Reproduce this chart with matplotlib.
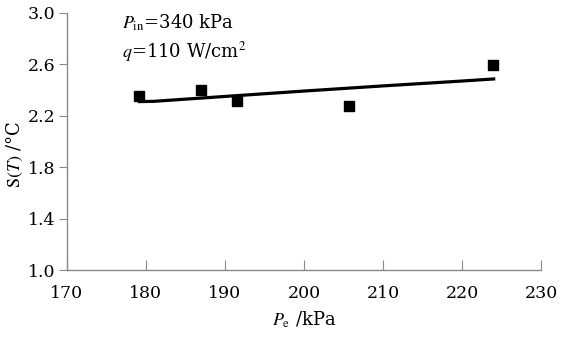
import numpy as np
import matplotlib.pyplot as plt

plt.rcParams['font.family'] = ['DejaVu Serif']
plt.rcParams['mathtext.fontset'] = 'stix'

# измерения
pe = [179.2, 187.0, 191.6, 205.7, 223.9]
s_t = [2.354, 2.398, 2.313, 2.279, 2.598]

# расчётная кривая
pe_line = [179.2, 181.0, 190.0, 200.0, 210.0, 220.0, 224.0]
s_line = [2.310, 2.312, 2.350, 2.392, 2.432, 2.470, 2.486]

x_ticks = [170, 180, 190, 200, 210, 220, 230]
y_ticks = [1.0, 1.4, 1.8, 2.2, 2.6, 3.0]

fig = plt.figure(figsize=(5.85, 3.39), dpi=100)
ax = fig.add_axes([0.114, 0.2035, 0.811, 0.7585])

ax.plot(pe_line, s_line, color='black', linewidth=2.3)
ax.plot(pe, s_t, linestyle='', marker='s', markersize=7.5, color='black')

ax.set_xlim(170, 230)
ax.set_ylim(1.0, 3.0)
ax.set_xticks(x_ticks)
ax.set_yticks(y_ticks)
ax.set_yticklabels(['%.1f' % v for v in y_ticks])

for side in ['top', 'right']:
    ax.spines[side].set_visible(False)
for side in ['left', 'bottom']:
    ax.spines[side].set_color('#8a8a8a')
    ax.spines[side].set_linewidth(1.0)

ax.tick_params(axis='x', direction='in', length=7, color='#8a8a8a', labelsize=12.5, pad=11)
ax.tick_params(axis='y', direction='out', length=6, color='#8a8a8a', labelsize=12.5, pad=2)

ax.set_xlabel(r'$P_\mathrm{e}$ /kPa', fontsize=13)
ax.xaxis.set_label_coords(0.5, -0.155)
ax.set_ylabel(r'$\mathrm{S}(T)$ /°C', fontsize=13)
ax.yaxis.set_label_coords(-0.088, 0.45)

ax.text(177.0, 2.88, r'$P_\mathrm{in}$=340 kPa', fontsize=13, va='baseline')
ax.text(177.0, 2.655, r'$q$=110 W/cm$^2$', fontsize=13, va='baseline')

fig.savefig('out.png', dpi=100)
